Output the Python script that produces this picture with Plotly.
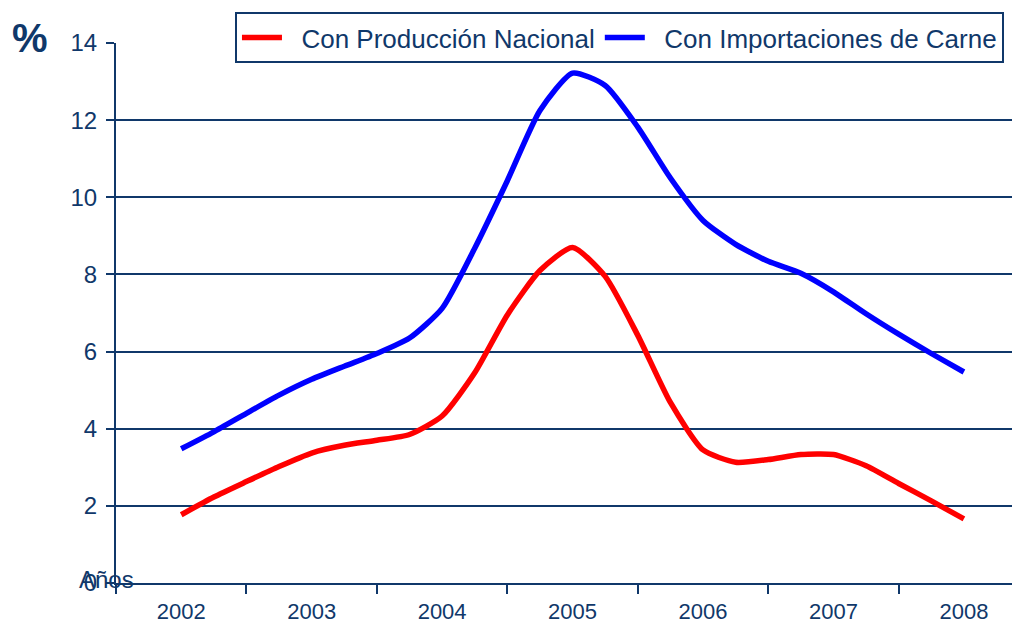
import plotly.graph_objects as go

years = ['2002', '2003', '2004', '2005', '2006', '2007', '2008']

# sampled every quarter of a year, 2002 .. 2008 (category index 0..6)
pos = [i / 4 for i in range(25)]

produccion = [1.77, 2.23, 2.63, 3.02, 3.37, 3.57, 3.70, 3.85, 4.33, 5.45, 6.95, 8.10,
              8.70, 7.95, 6.42, 4.68, 3.45, 3.13, 3.20, 3.33, 3.33, 3.04, 2.58, 2.13, 1.66]
importaciones = [3.48, 3.92, 4.40, 4.87, 5.28, 5.62, 5.95, 6.35, 7.12, 8.68, 10.43, 12.25,
                 13.22, 12.90, 11.82, 10.50, 9.40, 8.78, 8.34, 8.03, 7.55, 6.98, 6.45, 5.95, 5.47]

navy = '#10386a'
font = 'Liberation Sans, Arial, sans-serif'
pad = '\u00a0\u00a0'

fig = go.Figure()
fig.add_trace(go.Scatter(x=pos, y=produccion, mode='lines', name=pad + 'Con Producción Nacional',
                         line=dict(color='#ff0000', width=5.5, shape='spline', smoothing=0.6)))
fig.add_trace(go.Scatter(x=pos, y=importaciones, mode='lines', name=pad + 'Con Importaciones de Carne',
                         line=dict(color='#0000ff', width=5.5, shape='spline', smoothing=0.6)))

# page body adds an 8px offset, margins compensate
fig.update_layout(
    width=1012, height=619,
    margin=dict(l=108, r=0, t=35, b=44, autoexpand=False),
    paper_bgcolor='white', plot_bgcolor='white',
    font=dict(family=font, color=navy),
    showlegend=True,
    legend=dict(orientation='h', x=0.1316, y=1.057, xanchor='left', yanchor='top',
                bordercolor=navy, borderwidth=2, bgcolor='white',
                font=dict(family='Liberation Sans Narrow, Arial Narrow, Liberation Sans', size=26, color=navy),
                itemwidth=40, tracegroupgap=0),
    xaxis=dict(range=[-0.5, 6.43], tickmode='array', tickvals=list(range(len(years))), ticktext=years,
               ticks='', showgrid=False, zeroline=False, showline=True, linecolor=navy, linewidth=2,
               tickfont=dict(size=22, color=navy), ticklabelstandoff=8,
               minor=dict(tickmode='array', tickvals=[i - 0.5 for i in range(8)], ticks='outside',
                          ticklen=9, tickwidth=2, tickcolor=navy, showgrid=False)),
    yaxis=dict(range=[0, 14], dtick=2, ticks='outside', ticklen=8, tickwidth=2, tickcolor=navy,
               showgrid=True, gridcolor=navy, gridwidth=2, zeroline=False, ticklabelstandoff=4,
               showline=True, linecolor=navy, linewidth=2, tickfont=dict(size=24, color=navy)),
)

fig.add_annotation(text='<b>%</b>', xref='paper', yref='paper', x=-0.095, y=1.01, xanchor='center',
                   yanchor='middle', showarrow=False, font=dict(size=40, color=navy))
fig.add_annotation(text='Años', xref='paper', yref='paper', x=-0.011, y=0.007, xanchor='center',
                   yanchor='middle', showarrow=False, font=dict(size=24, color=navy))

fig.write_html("out.html")
